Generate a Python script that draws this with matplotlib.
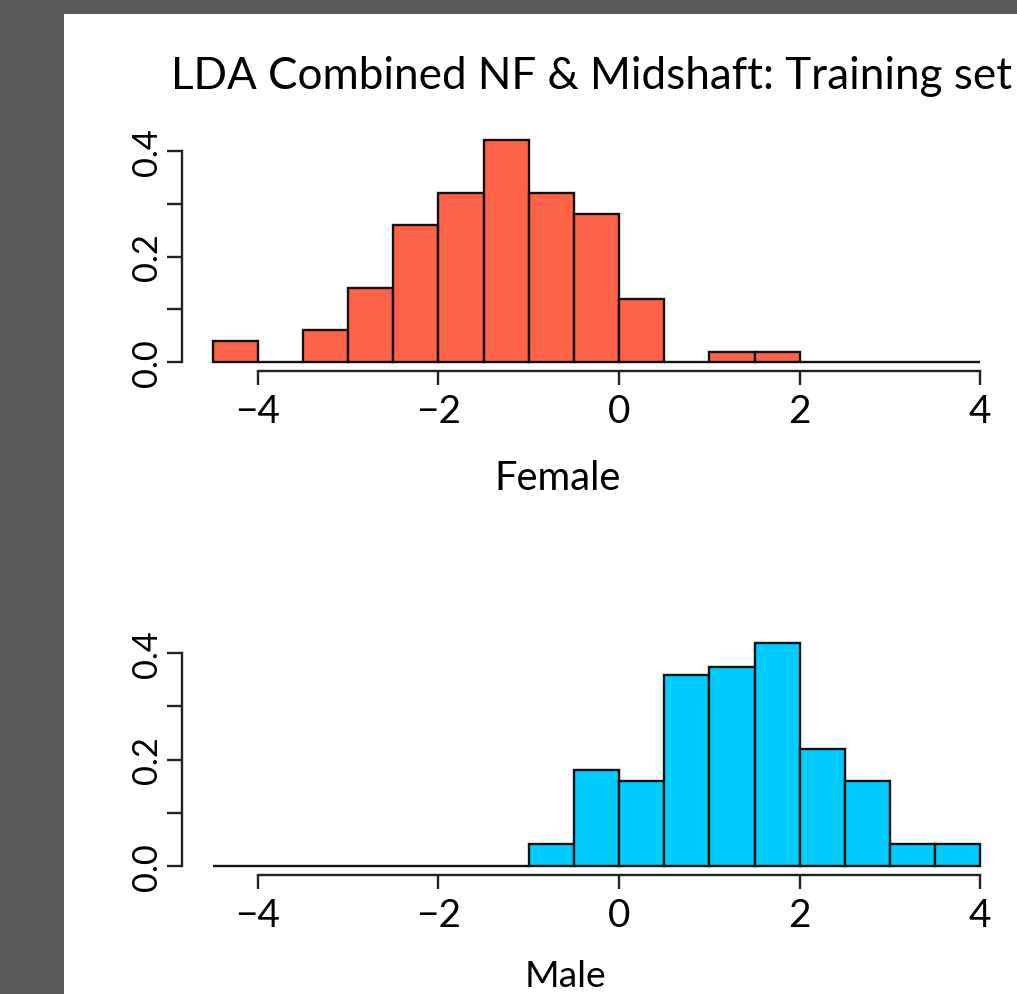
import matplotlib
matplotlib.use('Agg')
import matplotlib.pyplot as plt
from matplotlib.patches import Rectangle

# ---------------- data ----------------
bin_edges = [-4.5, -4.0, -3.5, -3.0, -2.5, -2.0, -1.5, -1.0, -0.5, 0.0,
             0.5, 1.0, 1.5, 2.0, 2.5, 3.0, 3.5, 4.0]
female_density = [0.04, 0.0, 0.06, 0.14, 0.26, 0.32, 0.42, 0.32, 0.28, 0.12,
                  0.0, 0.02, 0.02, 0.0, 0.0, 0.0, 0.0]
male_density = [0.0, 0.0, 0.0, 0.0, 0.0, 0.0, 0.0, 0.04, 0.18, 0.16,
                0.36, 0.375, 0.42, 0.22, 0.16, 0.04, 0.04]
x_ticks = [-4, -2, 0, 2, 4]
x_tick_labels = ['\u22124', '\u22122', '0', '2', '4']
y_ticks = [0.0, 0.1, 0.2, 0.3, 0.4]
y_tick_labels = ['0.0', '', '0.2', '', '0.4']
title = "LDA Combined NF & Midshaft: Training set"
panel_labels = ["Female", "Male"]
bar_colors = ['#FF6347', '#00CCFF']

# ---------------- figure ----------------
W, H = 1017, 995
FONT = 'Lato'
plt.rcParams['font.family'] = [FONT, 'DejaVu Sans']
fig = plt.figure(figsize=(W / 100, H / 100), dpi=100)
fig.patch.set_facecolor('#5A5A5A')
fig.add_artist(Rectangle((64 / W, 0), (W - 64) / W, (H - 15) / H,
                         transform=fig.transFigure, facecolor='white',
                         edgecolor='none', zorder=-10))
renderer = fig.canvas.get_renderer()


def fit_size(txt, target_px, rotation=0):
    t = fig.text(0, 0, txt, fontsize=20, rotation=rotation)
    bb = t.get_window_extent(renderer)
    L = bb.height if rotation else bb.width
    t.remove()
    return 20 * target_px / L


def px_axes(left, right, top, bottom):
    return fig.add_axes([left / W, 1 - bottom / H, (right - left) / W, (bottom - top) / H])


tick_fs = fit_size('\u22124', 45)
ytick_fs = fit_size('0.4', 48, rotation=90)
lw = 1.7

axes_boxes = [(182, 1011, 132.6, 372.0), (182, 1011, 634.8, 875.6)]
label_pos = [(558, 490), (566, 987)]
label_w = [127, 82]
densities = [female_density, male_density]

for i in range(2):
    ax = px_axes(*axes_boxes[i])
    ax.set_facecolor('none')
    ax.bar(bin_edges[:-1], densities[i], width=0.5, align='edge',
           color=bar_colors[i], edgecolor='#111111', linewidth=lw)
    ax.set_xlim(-4.84, 4.34)
    ax.set_ylim(-0.0168, 0.4368)
    for s in ['top', 'right']:
        ax.spines[s].set_visible(False)
    ax.spines['left'].set_bounds(0, 0.4)
    ax.spines['bottom'].set_bounds(-4, 4)
    for s in ['left', 'bottom']:
        ax.spines[s].set_linewidth(lw)
        ax.spines[s].set_color('#222222')
    ax.set_xticks(x_ticks)
    ax.set_xticklabels(x_tick_labels)
    ax.set_yticks(y_ticks)
    ax.set_yticklabels(y_tick_labels, rotation=90, va='center')
    ax.tick_params(axis='x', length=10, width=lw, labelsize=tick_fs, pad=6,
                   color='#222222')
    ax.tick_params(axis='y', length=11, width=lw, labelsize=ytick_fs, pad=3,
                   color='#222222')
    lx, ly = label_pos[i]
    fig.text(lx / W, 1 - ly / H, panel_labels[i], ha='center', va='baseline',
             fontsize=fit_size(panel_labels[i], label_w[i]))

fig.text(591.5 / W, 1 - 89 / H, title, ha='center', va='baseline',
         fontsize=fit_size(title, 843))

fig.savefig('out.png', dpi=100, facecolor=fig.get_facecolor())
